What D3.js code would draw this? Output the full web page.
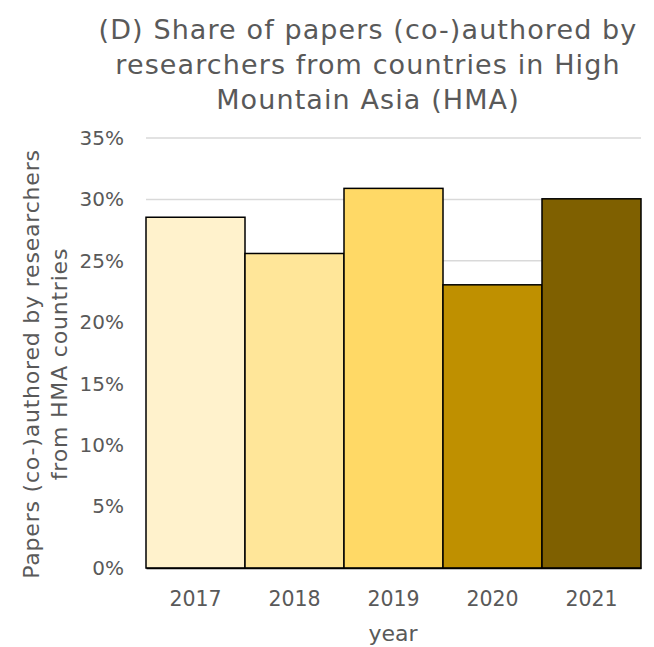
<!DOCTYPE html>
<html>
<head>
<meta charset="utf-8">
<script src="https://cdn.jsdelivr.net/npm/d3@7"></script>
<style>
  html, body { margin: 0; padding: 0; background: #fff; }
  svg { display: block; }
  text { font-family: "Century Gothic", "DejaVu Sans", sans-serif; fill: #595959; }
</style>
</head>
<body>
<svg id="chart" width="654" height="647"></svg>
<script>
const years = ["2017", "2018", "2019", "2020", "2021"];
const shares = [0.2855, 0.256, 0.309, 0.2305, 0.3005];
const colors = ["#FFF2CC", "#FFE699", "#FFD966", "#BF9000", "#7F6000"];
const yTicks = [0, 0.05, 0.10, 0.15, 0.20, 0.25, 0.30, 0.35];
const titleLines = ["(D) Share of papers (co-)authored by", "researchers from countries in High", "Mountain Asia (HMA)"];
const yTitleLines = ["Papers (co-)authored by researchers", "from HMA countries"];
const xTitle = "year";

const FONT = '"Century Gothic", "DejaVu Sans", sans-serif';
const svg = d3.select("#chart");
const margin = { left: 146, right: 13, top: 138, bottom: 79 };
const W = 654, H = 647;
const x = d3.scaleBand().domain(years).range([margin.left, W - margin.right]).padding(0);
const y = d3.scaleLinear().domain([0, 0.35]).range([H - margin.bottom, margin.top]);

// gridlines
svg.append("g").selectAll("line").data(yTicks.filter(d => d > 0)).join("line")
  .attr("x1", margin.left).attr("x2", W - margin.right)
  .attr("y1", d => y(d)).attr("y2", d => y(d))
  .attr("stroke", "#D9D9D9").attr("stroke-width", 1.5);

// y axis labels
const yAxis = d3.axisLeft(y).tickValues(yTicks).tickFormat(d3.format(".0%")).tickSize(0).tickPadding(22);
const gy = svg.append("g").attr("transform", `translate(${margin.left},0)`).call(yAxis);
gy.select(".domain").remove();
gy.selectAll("text").attr("font-size", 20).style("fill", "#595959").style("font-family", FONT);

// bars
svg.append("g").selectAll("rect").data(years).join("rect")
  .attr("x", d => x(d)).attr("width", x.bandwidth())
  .attr("y", (d, i) => y(shares[i])).attr("height", (d, i) => y(0) - y(shares[i]))
  .attr("fill", (d, i) => colors[i]).attr("stroke", "#000").attr("stroke-width", 1.5);

// x axis
const xAxis = d3.axisBottom(x).tickSize(0).tickPadding(23);
const gx = svg.append("g").attr("transform", `translate(0,${y(0)})`).call(xAxis);
gx.select(".domain").attr("stroke", "#000").attr("stroke-width", 1.5);
gx.selectAll("text").attr("font-size", 20.5).style("fill", "#595959").style("font-family", FONT);

// title
svg.append("g").selectAll("text").data(titleLines).join("text")
  .attr("x", 368).attr("y", (d, i) => 39 + i * 35)
  .attr("text-anchor", "middle").attr("font-size", 27).attr("letter-spacing", 1.1).text(d => d);

// axis titles
svg.append("text").attr("x", 393).attr("y", 641).attr("text-anchor", "middle")
  .attr("font-size", 22).text(xTitle);
svg.append("g").attr("transform", "translate(0,364) rotate(-90)")
  .selectAll("text").data(yTitleLines).join("text")
  .attr("x", 0).attr("y", (d, i) => 39 + i * 28)
  .attr("text-anchor", "middle").attr("font-size", 22).attr("letter-spacing", 0.8).text(d => d);
</script>
</body>
</html>
